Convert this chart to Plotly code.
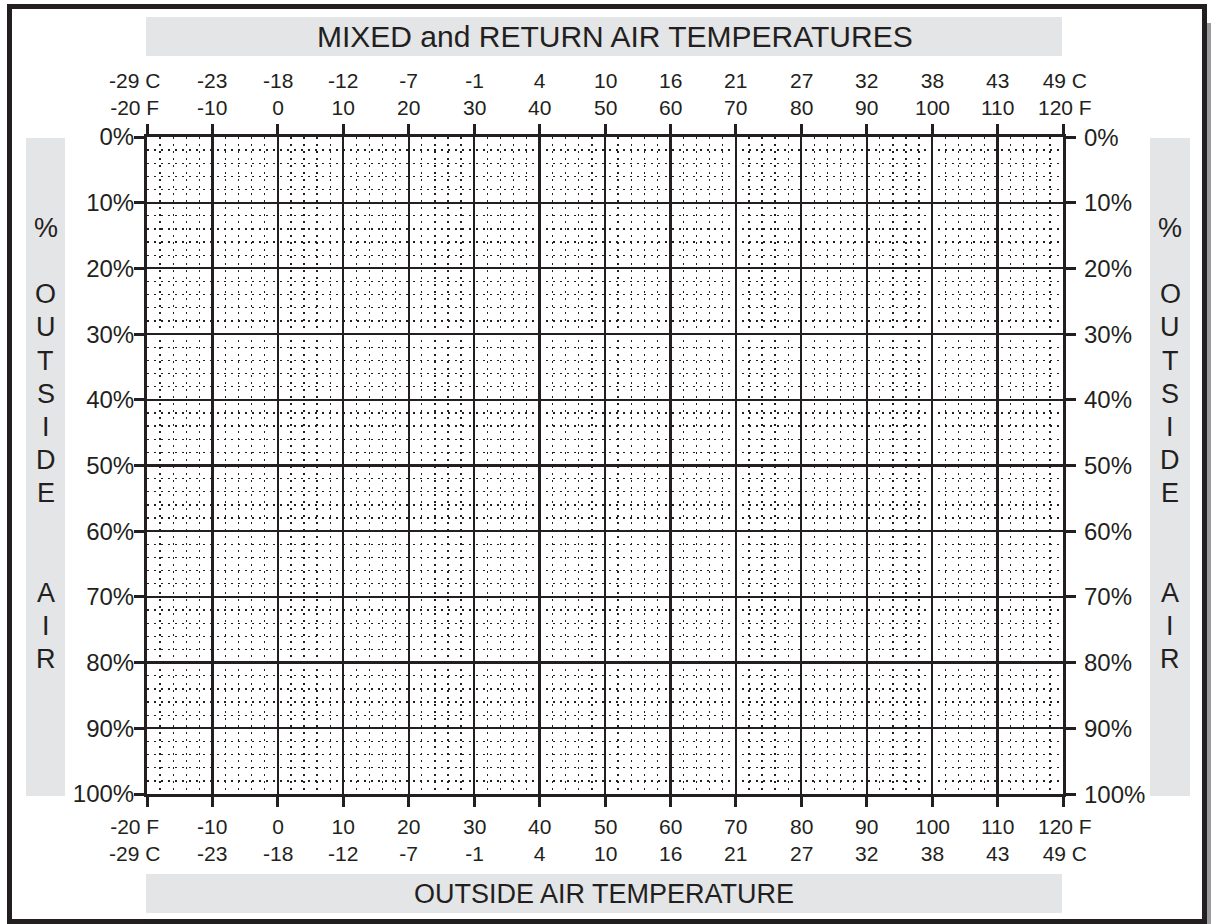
import plotly.graph_objects as go

# ---------------- data ----------------
F_TICKS = [-20, -10, 0, 10, 20, 30, 40, 50, 60, 70, 80, 90, 100, 110, 120]
F_LABELS = ["-20 F", "-10", "0", "10", "20", "30", "40", "50", "60", "70",
            "80", "90", "100", "110", "120 F"]
C_LABELS = ["-29 C", "-23", "-18", "-12", "-7", "-1", "4", "10", "16", "21",
            "27", "32", "38", "43", "49 C"]
PCT_TICKS = [0, 10, 20, 30, 40, 50, 60, 70, 80, 90, 100]
PCT_LABELS = ["0%", "10%", "20%", "30%", "40%", "50%", "60%", "70%", "80%",
              "90%", "100%"]
SIDE_LETTERS = ["%", "", "O", "U", "T", "S", "I", "D", "E", "", "", "A", "I", "R"]
TOP_TITLE = "MIXED and RETURN AIR TEMPERATURES"
BOTTOM_TITLE = "OUTSIDE AIR TEMPERATURE"

# ---------------- layout geometry (pixels) ----------------
W, H = 1211, 924
L, R, T, B = 147, 1063, 137, 794
INK = "#231f20"
BOX = "#e4e5e7"
FONT = "Liberation Sans, Arial, Helvetica, sans-serif"


def px(x):
    return (x - L) / (R - L)


def py(y):
    return (B - y) / (B - T)


fig = go.Figure()
fig.add_trace(go.Scatter(x=[F_TICKS[0], F_TICKS[-1]], y=[PCT_TICKS[0], PCT_TICKS[-1]],
                         mode="markers", marker=dict(opacity=0), hoverinfo="skip",
                         showlegend=False))

grid_common = dict(
    ticks="outside", ticklen=10, tickwidth=3, tickcolor=INK,
    showline=True, linewidth=3, linecolor=INK, mirror="ticks",
    showgrid=True, gridcolor=INK, gridwidth=2.2, zeroline=False,
)

fig.update_xaxes(
    range=[F_TICKS[0], F_TICKS[-1]], tickmode="array", tickvals=F_TICKS,
    showticklabels=False,
    minor=dict(tick0=F_TICKS[0], dtick=2, showgrid=True, gridcolor=INK,
               gridwidth=1.3, griddash="2px,5px", ticks=""),
    **grid_common,
)
fig.update_yaxes(
    range=[PCT_TICKS[-1], PCT_TICKS[0]], tickmode="array", tickvals=PCT_TICKS,
    ticktext=PCT_LABELS, tickfont=dict(family=FONT, size=24, color=INK),
    ticklabelstandoff=-5,
    minor=dict(tick0=0, dtick=2, showgrid=True, gridcolor=INK,
               gridwidth=1.3, griddash="2px,5px", ticks=""),
    **grid_common,
)

shapes = []
# grey label boxes
shapes.append(dict(type="rect", xref="paper", yref="paper", x0=px(146), x1=px(1062),
                   y0=py(17), y1=py(56), fillcolor=BOX, line=dict(width=0), layer="below"))
shapes.append(dict(type="rect", xref="paper", yref="paper", x0=px(146), x1=px(1062),
                   y0=py(874), y1=py(913), fillcolor=BOX, line=dict(width=0), layer="below"))
shapes.append(dict(type="rect", xref="paper", yref="paper", x0=px(26), x1=px(65),
                   y0=py(138), y1=py(796), fillcolor=BOX, line=dict(width=0), layer="below"))
shapes.append(dict(type="rect", xref="paper", yref="paper", x0=px(1150), x1=px(1190),
                   y0=py(138), y1=py(796), fillcolor=BOX, line=dict(width=0), layer="below"))
# drop shadow
shapes.append(dict(type="rect", xref="paper", yref="paper", x0=px(1207), x1=px(1212),
                   y0=py(23), y1=py(926), fillcolor="#9a9a9c", line=dict(width=0), layer="below"))
# outer frame
shapes.append(dict(type="rect", xref="paper", yref="paper", x0=px(9.5), x1=px(1204.5),
                   y0=py(6.5), y1=py(921.5), line=dict(color=INK, width=5),
                   fillcolor="rgba(0,0,0,0)", layer="above"))

ann = []
# titles
ann.append(dict(text=TOP_TITLE, xref="paper", yref="paper", x=px(615), y=py(36.5),
                showarrow=False, xanchor="center", yanchor="middle",
                font=dict(family=FONT, size=30, color=INK)))
ann.append(dict(text=BOTTOM_TITLE, xref="paper", yref="paper", x=px(604), y=py(893.5),
                showarrow=False, xanchor="center", yanchor="middle",
                font=dict(family=FONT, size=27, color=INK)))
# x tick labels (top: C over F; bottom: F over C)
for i, (f, fl, cl) in enumerate(zip(F_TICKS, F_LABELS, C_LABELS)):
    shift = -13 if i == 0 else 2 if i == len(F_TICKS) - 1 else 0
    ann.append(dict(text=f"{cl}<br>{fl}", xref="x", yref="paper", x=f, y=py(93.5),
                    xshift=shift, showarrow=False, xanchor="center", yanchor="middle",
                    font=dict(family=FONT, size=21, color=INK)))
    ann.append(dict(text=f"{fl}<br>{cl}", xref="x", yref="paper", x=f, y=py(839.5),
                    xshift=shift, showarrow=False, xanchor="center", yanchor="middle",
                    font=dict(family=FONT, size=21, color=INK)))
# right y tick labels
for p, lab in zip(PCT_TICKS, PCT_LABELS):
    ann.append(dict(text=lab, xref="paper", yref="y", x=px(1082), y=p,
                    showarrow=False, xanchor="left", yanchor="middle",
                    font=dict(family=FONT, size=24, color=INK)))
# vertical stacked side titles
for k, letter in enumerate(SIDE_LETTERS):
    if not letter:
        continue
    yy = 228 + k * 33.15
    for cx in (45.5, 1170):
        ann.append(dict(text=letter, xref="paper", yref="paper", x=px(cx), y=py(yy),
                        showarrow=False, xanchor="center", yanchor="middle",
                        font=dict(family=FONT, size=27, color=INK)))

fig.update_layout(
    width=W, height=H,
    margin=dict(l=L, r=W - R, t=T, b=H - B, pad=0),
    paper_bgcolor="white", plot_bgcolor="white",
    shapes=shapes, annotations=ann, showlegend=False,
)

fig.write_html("out.html",
               config={"displayModeBar": False, "staticPlot": True},
               post_script="document.body.style.margin='0px';"
                           "document.body.style.overflow='hidden';")
